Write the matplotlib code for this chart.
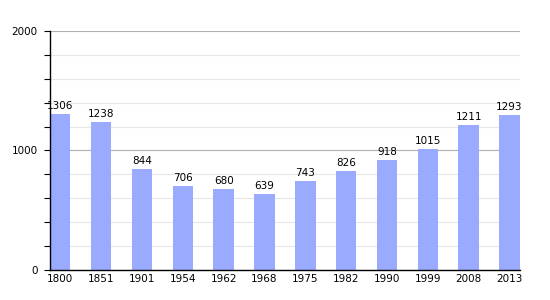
import matplotlib.pyplot as plt
import numpy as np

years = ['1800', '1851', '1901', '1954', '1962', '1968', '1975', '1982', '1990', '1999', '2008', '2013']
population = [1306, 1238, 844, 706, 680, 639, 743, 826, 918, 1015, 1211, 1293]


def main():
    fig = plt.figure(figsize=(5.5, 3), dpi=100)
    ax = fig.add_axes([0.091, 0.1, 0.854, 0.797])
    x = np.arange(len(years))

    ax.bar(x, population, width=0.5, color='#99aaff', zorder=2)
    for xi, v in zip(x, population):
        ax.text(xi, v + 25, str(v), ha='center', va='bottom', fontsize=7.5)

    ax.set_xlim(-0.25, len(years) - 0.75)
    ax.set_ylim(0, 2000)
    ax.set_xticks(x)
    ax.set_xticklabels(years, fontsize=7.5)
    ax.set_yticks([0, 1000, 2000])
    ax.set_yticklabels(['0', '1000', '2000'], fontsize=7.5)
    ax.set_yticks(np.arange(0, 2001, 200), minor=True)

    ax.grid(axis='y', which='minor', color='#e6e6e6', linewidth=0.8, zorder=0)
    ax.grid(axis='y', which='major', color='#b0b0b0', linewidth=0.8, zorder=0)
    ax.tick_params(axis='x', length=0, pad=3)
    ax.tick_params(axis='y', which='both', length=4, width=0.8, pad=5)

    for side in ['top', 'right']:
        ax.spines[side].set_visible(False)
    ax.spines['left'].set_linewidth(1)
    ax.spines['bottom'].set_linewidth(1)

    fig.savefig('out.png')


if __name__ == '__main__':
    main()
